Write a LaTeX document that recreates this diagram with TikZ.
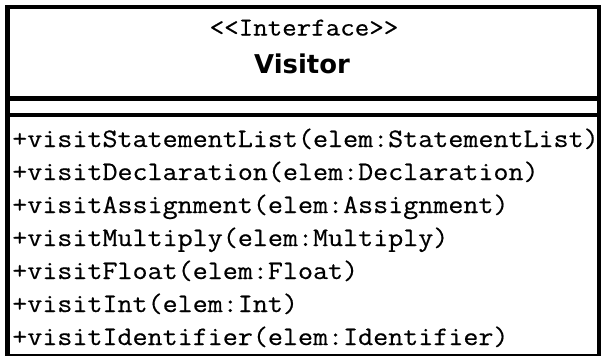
\documentclass[tikz,border=0pt]{standalone}
\usepackage{fontspec}
\newfontfamily\umlmono[FakeBold=0.45,FakeStretch=1.095]{Latin Modern Mono}
\newfontfamily\umltitle{DejaVu Sans}
\begin{document}
\begin{tikzpicture}[x=0.75pt,y=-0.75pt,
  boxline/.style={line width=3.4pt,draw=black},
  method/.style={anchor=base west,inner sep=0pt,font=\umlmono\fontsize{20pt}{22pt}\selectfont},
  stereo/.style={anchor=base,inner sep=0pt,font=\umlmono\fontsize{19.3pt}{22pt}\selectfont},
  title/.style={anchor=base,inner sep=0pt,font=\umltitle\bfseries\fontsize{19.4pt}{22pt}\selectfont}]
\useasboundingbox (0,0) rectangle (601,355);
\clip (0,0) rectangle (601,355);
\fill[white] (0,0) rectangle (601,355);
% outer box and compartments
\coordinate (tl) at (7.5,7);
\coordinate (br) at (599,356.5);
\draw[boxline] (tl) rectangle (br);
\draw[boxline] (7.5,98.5) coordinate (s1l) -- (599,98.5) coordinate (s1r);
\draw[boxline] (7.5,115) coordinate (s2l) -- (599,115) coordinate (s2r);
% header
\node[stereo] (stereo) at (304,35.5) {<{}<Interface>{}>};
\node[title] (name) at (302,73.5) {Visitor};
% methods
\node[method] (m1) at (12,147) {+visitStatementList(elem:StatementList)};
\node[method] (m2) at (12,180) {+visitDeclaration(elem:Declaration)};
\node[method] (m3) at (12,213) {+visitAssignment(elem:Assignment)};
\node[method] (m4) at (12,246) {+visitMultiply(elem:Multiply)};
\node[method] (m5) at (12,279) {+visitFloat(elem:Float)};
\node[method] (m6) at (12,312) {+visitInt(elem:Int)};
\node[method] (m7) at (12,345) {+visitIdentifier(elem:Identifier)};
\end{tikzpicture}
\end{document}
